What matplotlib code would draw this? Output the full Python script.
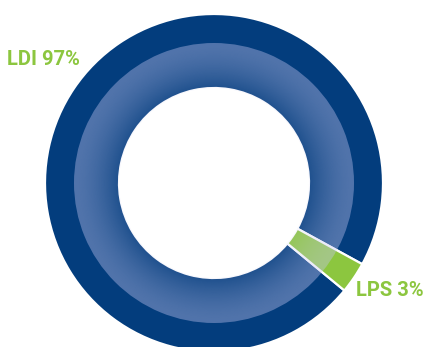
import numpy as np
import matplotlib
matplotlib.use("Agg")
import matplotlib.pyplot as plt
from matplotlib.colors import to_rgb
from matplotlib.patches import Wedge

# --- Data ---
labels = ["LDI", "LPS"]
shares = [97, 3]

NAVY = "#033d7d"
GREEN = "#8cc63f"
SHEEN = "#c8c8f2"

W, H = 425, 347
cx, cy = 214, 347 - 183          # donut centre in pixel coords (y up)
r_outer, r_hole, r_band = 169, 95, 140

fig = plt.figure(figsize=(W / 100, H / 100), dpi=100)
ax = fig.add_axes([0, 0, 1, 1])

ax.pie(
    shares,
    colors=[NAVY, GREEN],
    startangle=-39.5,
    counterclock=False,
    radius=r_outer,
    center=(cx, cy),
    wedgeprops=dict(width=r_outer - r_hole, edgecolor="white", linewidth=1.6),
    frame=True,
)
ax.set_xlim(0, W)
ax.set_ylim(0, H)
ax.set_aspect("equal")
ax.axis("off")

# --- Light radial band on the inner part of the ring ---
n = 400
xs = np.linspace(cx - r_band, cx + r_band, n)
ys = np.linspace(cy - r_band, cy + r_band, n)
X, Y = np.meshgrid(xs, ys)
R = np.hypot(X - cx, Y - cy)
t = np.clip((r_band - R) / (r_band - r_hole), 0, 1)
img = np.zeros((n, n, 4))
img[..., :3] = to_rgb(SHEEN)
img[..., 3] = 0.40 - 0.26 * t ** 1.6
band = Wedge((cx, cy), r_band, 0, 360, width=r_band - r_hole,
             transform=ax.transData, facecolor="none", edgecolor="none")
ax.add_patch(band)
im = ax.imshow(img, extent=[xs[0], xs[-1], ys[0], ys[-1]], origin="lower",
               interpolation="bilinear", zorder=3)
im.set_clip_path(band)

# --- Labels ---
text_kw = dict(color=GREEN, fontsize=14.5, fontweight="bold", family="Roboto",
               va="center", zorder=5)
ax.text(7, H - 59, f"{labels[0]} {shares[0]}%", ha="left", **text_kw)
ax.text(356, H - 291, f"{labels[1]} {shares[1]}%", ha="left", **text_kw)

fig.savefig("out.png", dpi=100)
